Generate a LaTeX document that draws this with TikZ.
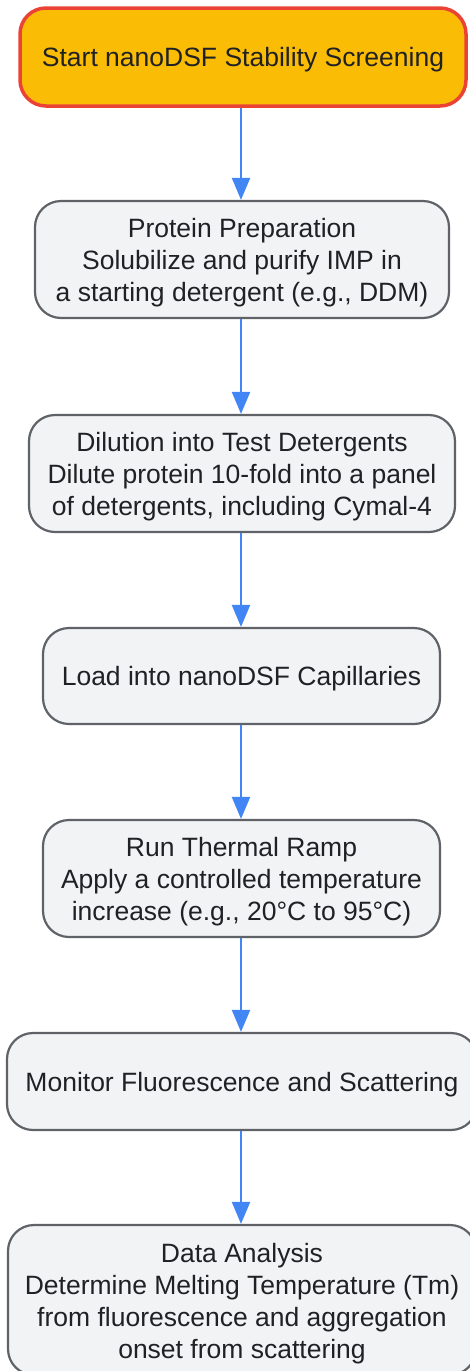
\documentclass[tikz,border=0pt]{standalone}
\usepackage{fontspec}
\setmainfont{Liberation Sans}
\usetikzlibrary{arrows.meta}
\definecolor{startfill}{HTML}{FBBC05}
\definecolor{startline}{HTML}{EA4335}
\definecolor{boxfill}{HTML}{F1F3F4}
\definecolor{boxline}{HTML}{5F6368}
\definecolor{txt}{HTML}{202124}
\definecolor{arrowblue}{HTML}{4285F4}
\tikzset{
  base/.style={rounded corners=26pt, inner sep=0pt},
  startbox/.style={base, fill=startfill, draw=startline, line width=3.5pt},
  stepbox/.style={base, fill=boxfill, draw=boxline, line width=2.2pt},
  lbl/.style={inner sep=0pt, align=center, text=txt, font=\fontsize{26.5}{32}\selectfont},
  flow/.style={draw=arrowblue, line width=2.2pt, -{Triangle[width=18pt,length=22pt]}}
}
\begin{document}
\begin{tikzpicture}[x=1pt,y=-1pt]
\useasboundingbox (0,0) rectangle (470,1371);
\node[startbox, minimum width=446pt, minimum height=98pt] (n1) at (243,57) {};
\node[stepbox, minimum width=414pt, minimum height=117pt] (n2) at (242,259.5) {};
\node[stepbox, minimum width=426pt, minimum height=117pt] (n3) at (242,473.5) {};
\node[stepbox, minimum width=397pt, minimum height=96pt] (n4) at (241.5,676) {};
\node[stepbox, minimum width=397pt, minimum height=117pt] (n5) at (241.5,878.5) {};
\node[stepbox, minimum width=470pt, minimum height=97pt] (n6) at (242,1081.5) {};
\node[stepbox, minimum width=468pt, minimum height=150pt] (n7) at (242,1300) {};
\node[lbl] (t1) at ([yshift=-3pt]n1.center) {Start nanoDSF Stability Screening};
\node[lbl] (t2) at ([yshift=-3.5pt]n2.center) {Protein Preparation\\Solubilize and purify IMP in\\a starting detergent (e.g., DDM)};
\node[lbl] (t3) at ([yshift=-3.5pt]n3.center) {Dilution into Test Detergents\\Dilute protein 10-fold into a panel\\of detergents, including Cymal-4};
\node[lbl] (t4) at ([yshift=-3pt]n4.center) {Load into nanoDSF Capillaries};
\node[lbl] (t5) at ([yshift=-3.5pt]n5.center) {Run Thermal Ramp\\Apply a controlled temperature\\increase (e.g., 20°C to 95°C)};
\node[lbl] (t6) at ([yshift=-3pt]n6.center) {Monitor Fluorescence and Scattering};
\node[lbl] (t7) at ([yshift=-3.5pt]n7.center) {Data Analysis\\Determine Melting Temperature (Tm)\\from fluorescence and aggregation\\onset from scattering};
\coordinate (a) at (241,0);
\draw[flow] (a |- n1.south) -- (a |- n2.north);
\draw[flow] (a |- n2.south) -- (a |- n3.north);
\draw[flow] (a |- n3.south) -- (a |- n4.north);
\draw[flow] (a |- n4.south) -- (a |- n5.north);
\draw[flow] (a |- n5.south) -- (a |- n6.north);
\draw[flow] (a |- n6.south) -- (a |- n7.north);
\end{tikzpicture}
\end{document}
